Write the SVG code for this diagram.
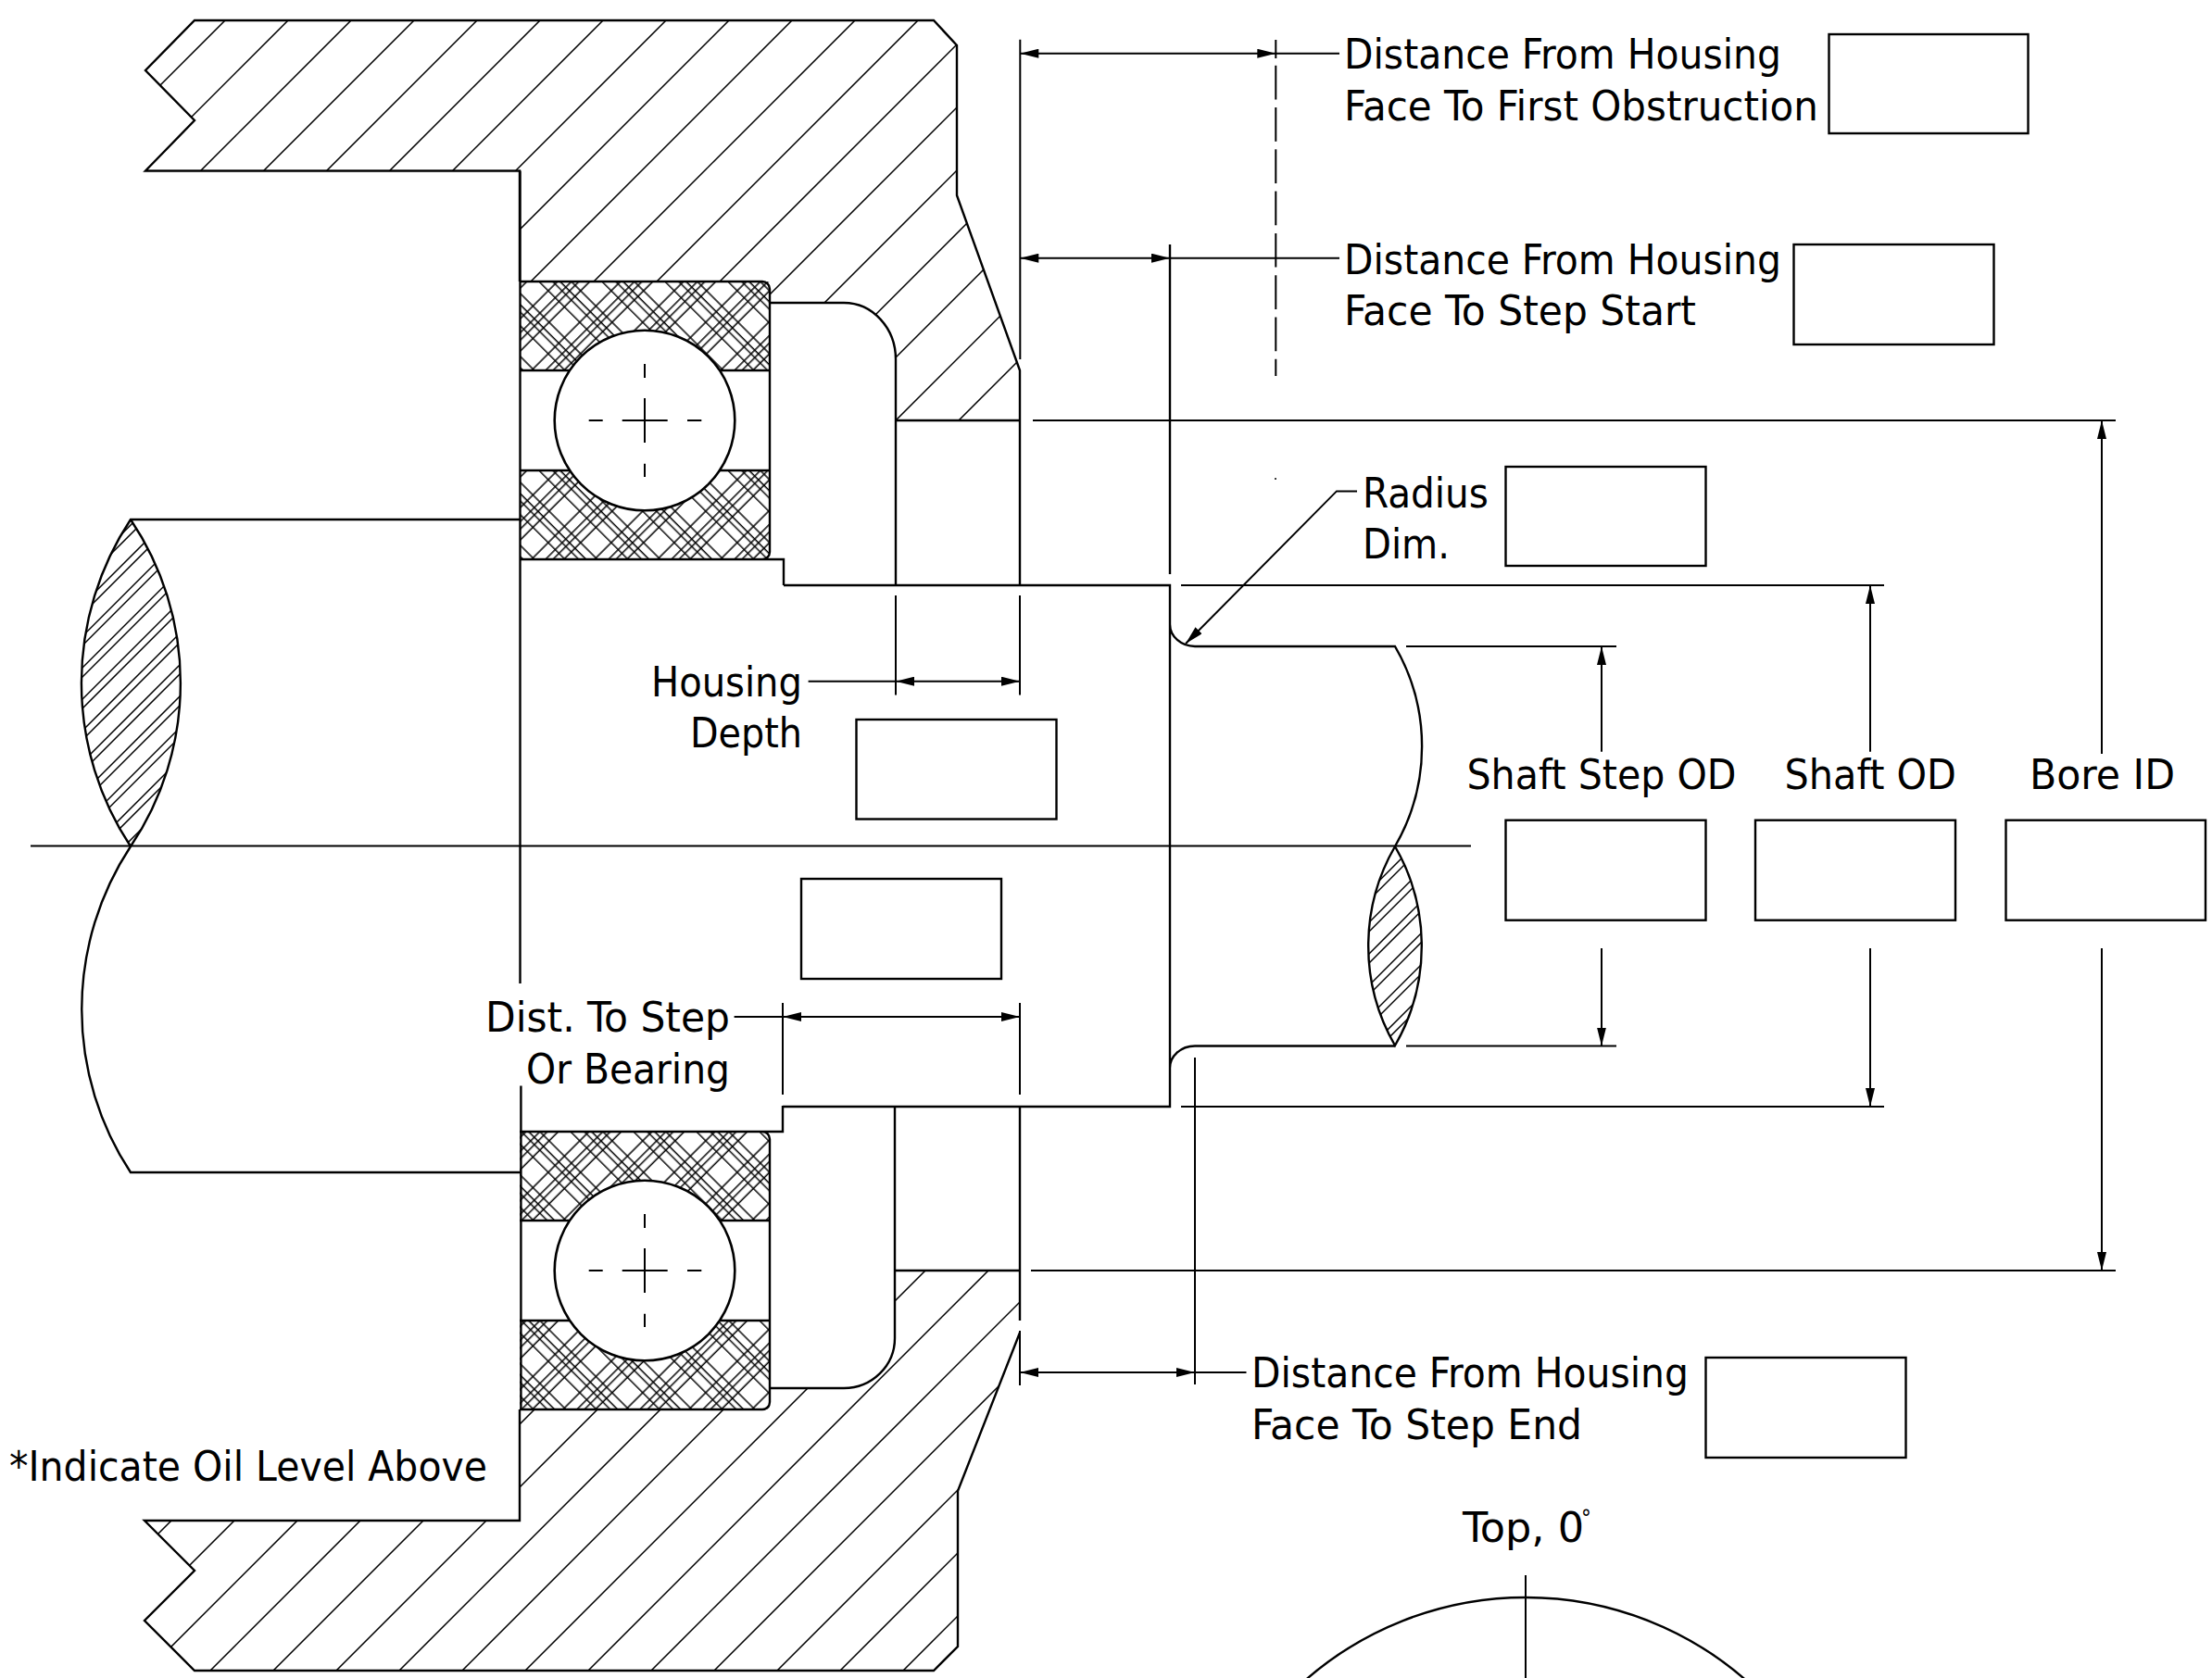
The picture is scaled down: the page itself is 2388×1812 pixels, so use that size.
<svg xmlns="http://www.w3.org/2000/svg" width="2388" height="1812" viewBox="0 0 2388 1812">
<style>
.o{fill:none;stroke:#000;stroke-width:2.4}
.d{fill:none;stroke:#000;stroke-width:2}
.h{fill:none;stroke:#000;stroke-width:1.5}
.box{fill:#fff;stroke:#000;stroke-width:2.4}
.a{marker-start:url(#as);marker-end:url(#ae)}
text{font-family:"DejaVu Sans Condensed","DejaVu Sans",sans-serif;font-stretch:condensed;font-size:45px;fill:#000}
</style>
<defs>
<marker id="ae" markerUnits="userSpaceOnUse" markerWidth="22" markerHeight="12" refX="20" refY="5" orient="auto"><path d="M0 0L20 5L0 10Z" fill="#000"/></marker>
<marker id="as" markerUnits="userSpaceOnUse" markerWidth="22" markerHeight="12" refX="0" refY="5" orient="auto"><path d="M20 0L0 5L20 10Z" fill="#000"/></marker>
<pattern id="xh" width="48.08" height="48.08" patternUnits="userSpaceOnUse" patternTransform="translate(31.35 -15.05) rotate(45)">
<path d="M4 0V48.08M14.6 0V48.08M20.3 0V48.08M28.7 0V48.08M0 4H48.08M0 12.5H48.08M0 18.2H48.08M0 28.7H48.08" fill="none" stroke="#000" stroke-width="1.5"/>
</pattern>
<clipPath id="cu"><path d="M210 22H1008L1033 49V211L1101 400V454H967V388A56 61 0 0 0 911 327H832V304H561V184.5H157L210 130L157 76Z"/></clipPath>
<clipPath id="cl"><path d="M156 1642H561V1522H831V1499H911A55 54 0 0 0 966 1445V1372H1101V1439L1034 1610V1778L1008 1804H210L156 1750L210 1696Z"/></clipPath>
<clipPath id="ll"><path d="M141 561A320 320 0 0 0 141 914A316 316 0 0 0 141 561Z"/></clipPath>
<clipPath id="rl"><path d="M1506 914A215 215 0 0 0 1506 1129A215 215 0 0 0 1506 914Z"/></clipPath>
<g id="ball"><circle cx="696" cy="454" r="97.3" fill="#fff" stroke="#000" stroke-width="2.6"/><path class="d" d="M635.7 454H650.7M671.7 454H720.7M742 454H757.3M696 393V408M696 430V478M696 500.7V515"/></g>
</defs>
<rect width="2388" height="1812" fill="#fff"/>

<g id="housing-upper">
<path class="h" clip-path="url(#cu)" d="M265 0L0 265M333 0L0 333M401 0L0 401M469 0L0 469M537 0L0 537M605 0L0 605M673 0L0 673M741 0L0 741M809 0L0 809M877 0L0 877M945 0L0 945M1013 0L0 1013M1081 0L0 1081M1149 0L0 1149M1217 0L0 1217M1285 0L0 1285M1353 0L0 1353M1421 0L0 1421M1489 0L0 1489"/>
<path class="o" d="M561 304V184.5H157L210 130L157 76L210 22H1008L1033 49V211L1101 400V632M1101 454H967M832 327H911A56 61 0 0 1 967 388V632"/>
</g>
<g id="housing-lower">
<path class="h" clip-path="url(#cl)" d="M1827 0L0 1827M1895 0L0 1895M1963 0L0 1963M2031 0L0 2031M2099 0L0 2099M2167 0L0 2167M2235 0L0 2235M2303 0L0 2303M2371 0L0 2371M2439 0L0 2439M2507 0L0 2507M2575 0L0 2575M2643 0L0 2643M2711 0L0 2711M2779 0L0 2779"/>
<path class="o" d="M561 1522V1642H156L210 1696L156 1750L210 1804H1008L1034 1778V1610L1101 1439M1101 1372H966M831 1499H911A55 54 0 0 0 966 1445V1194M1101 1194V1426"/>
</g>
<g id="bearing-upper">
<rect x="561" y="304" width="270" height="96" fill="url(#xh)"/>
<rect x="561" y="508" width="270" height="96" fill="url(#xh)"/>
<path class="o" d="M561 304H823A8 8 0 0 1 831 312V596A8 8 0 0 1 823 604M561 604H846V632M561 400H831M561 508H831"/>
<use href="#ball"/>
</g>
<g id="bearing-lower">
<rect x="561" y="1222" width="270" height="96" fill="url(#xh)"/>
<rect x="561" y="1426" width="270" height="96" fill="url(#xh)"/>
<path class="o" d="M845 1194V1222H561M823 1222A8 8 0 0 1 831 1230V1514A8 8 0 0 1 823 1522H561M561 1318H831M561 1426H831"/>
<use href="#ball" y="918"/>
</g>
<g id="shaft">
<path class="h" clip-path="url(#ll)" d="M708 0L0 708M718 0L0 718M742 0L0 742M752 0L0 752M776 0L0 776M786 0L0 786M810 0L0 810M820 0L0 820M844 0L0 844M854 0L0 854M878 0L0 878M888 0L0 888M912 0L0 912M922 0L0 922M946 0L0 946M956 0L0 956M980 0L0 980M990 0L0 990M1014 0L0 1014M1024 0L0 1024M1048 0L0 1048"/>
<path class="h" clip-path="url(#rl)" d="M2440 0L0 2440M2450 0L0 2450M2474 0L0 2474M2484 0L0 2484M2508 0L0 2508M2518 0L0 2518M2542 0L0 2542M2552 0L0 2552M2576 0L0 2576M2586 0L0 2586M2610 0L0 2610M2620 0L0 2620"/>
<path class="o" d="M561 561H141A320 320 0 0 0 141 914A316 316 0 0 0 141 561M141 914A320 320 0 0 0 141 1266H562.4M561.5 184.5V1062M562.4 1172.6V1522"/>
<path class="o" d="M846 632H1263V1195H845M1263 264V620M1263 674A27 24 0 0 0 1290 698H1506A215 215 0 0 1 1506 914A215 215 0 0 0 1506 1129A215 215 0 0 0 1506 914M1263 1154A27 24 0 0 1 1290 1129.500H1506"/>
<path class="d" d="M33 913.500H1588"/>
<path class="d" d="M1377.300 43V63"/>
<path class="d" stroke-dasharray="36.700 8.600" d="M1377.300 70.700V406"/>
<circle cx="1377" cy="517" r="1" fill="#000"/>
</g>
<g id="connectors">
<path class="d" d="M1101.300 42.700V388M1101 643V750.500M967 643V750.500M845 1083V1182M1101 1083V1182M1101 1437V1496M1290 1142V1495"/>
<path class="d" d="M1115 454H2284M1113 1372H2284M1275 632H2034M1275 1195H2034M1518 698H1745M1518 1129.500H1745"/>
<path class="d a" d="M1101.300 57.700H1377.300"/><path class="d" d="M1377.300 57.700H1446"/>
<path class="d a" d="M1101.300 278.700H1263"/><path class="d" d="M1263 278.700H1446"/>
<path class="d a" d="M967 735.700H1101"/><path class="d" d="M872.600 735.700H967"/>
<path class="d a" d="M845 1098H1101"/><path class="d" d="M792.600 1098H845"/>
<path class="d a" d="M1101 1482H1290"/><path class="d" d="M1290 1482H1345.500"/>
<path class="d" marker-end="url(#ae)" d="M1465 530.400H1443L1280 695"/>
<path class="d" marker-end="url(#ae)" d="M1729 811.700V698"/><path class="d" marker-end="url(#ae)" d="M1729 1024V1129.500"/>
<path class="d" marker-end="url(#ae)" d="M2019 811.700V632"/><path class="d" marker-end="url(#ae)" d="M2019 1024V1195"/>
<path class="d" marker-end="url(#ae)" d="M2269 814V454"/><path class="d" marker-end="url(#ae)" d="M2269 1024V1372"/>
<path class="d" d="M1647 1701V1812"/>
</g>
<g id="orientation-circle"><circle class="o" cx="1647" cy="2086" r="361"/></g>

<g id="first-obstruction"><rect class="box" x="1974.500" y="37" width="215" height="107"/>
<text x="1451" y="74.300" textLength="472" lengthAdjust="spacingAndGlyphs">Distance From Housing</text>
<text x="1451" y="130" textLength="512" lengthAdjust="spacingAndGlyphs">Face To First Obstruction</text></g>
<g id="step-start"><rect class="box" x="1936.500" y="264" width="216" height="108"/>
<text x="1451" y="295.700" textLength="472" lengthAdjust="spacingAndGlyphs">Distance From Housing</text>
<text x="1451" y="350.700" textLength="380" lengthAdjust="spacingAndGlyphs">Face To Step Start</text></g>
<g id="radius-dim"><rect class="box" x="1625.500" y="504" width="216" height="107"/>
<text x="1471" y="548" textLength="136" lengthAdjust="spacingAndGlyphs">Radius</text>
<text x="1471" y="603" textLength="94" lengthAdjust="spacingAndGlyphs">Dim.</text></g>
<g id="housing-depth"><rect class="box" x="924.500" y="777" width="216" height="107.500"/>
<text x="703" y="752" textLength="163" lengthAdjust="spacingAndGlyphs">Housing</text>
<text x="745" y="807" textLength="121" lengthAdjust="spacingAndGlyphs">Depth</text></g>
<g id="dist-box"><rect class="box" x="865" y="949" width="216" height="108"/>
<text x="524" y="1114" textLength="264" lengthAdjust="spacingAndGlyphs">Dist. To Step</text>
<text x="568" y="1169.500" textLength="220" lengthAdjust="spacingAndGlyphs">Or Bearing</text></g>
<g id="shaft-step-od"><rect class="box" x="1625.500" y="885.700" width="216" height="108"/>
<text x="1583.500" y="852" textLength="291" lengthAdjust="spacingAndGlyphs">Shaft Step OD</text></g>
<g id="shaft-od"><rect class="box" x="1895" y="885.700" width="216" height="108"/>
<text x="1926.500" y="852" textLength="185.500" lengthAdjust="spacingAndGlyphs">Shaft OD</text></g>
<g id="bore-id"><rect class="box" x="2165.500" y="885.700" width="215.500" height="108"/>
<text x="2191" y="852" textLength="157" lengthAdjust="spacingAndGlyphs">Bore ID</text></g>
<g id="step-end"><rect class="box" x="1841.500" y="1466" width="216" height="108"/>
<text x="1351" y="1498" textLength="472" lengthAdjust="spacingAndGlyphs">Distance From Housing</text>
<text x="1351" y="1554" textLength="357" lengthAdjust="spacingAndGlyphs">Face To Step End</text></g>
<text id="oil-note" x="10" y="1599" textLength="516" lengthAdjust="spacingAndGlyphs">*Indicate Oil Level Above</text>
<g id="top-label"><text x="1579" y="1665" textLength="131" lengthAdjust="spacingAndGlyphs">Top, 0</text><text x="1707" y="1648" style="font-size:24px">°</text></g>
</svg>
